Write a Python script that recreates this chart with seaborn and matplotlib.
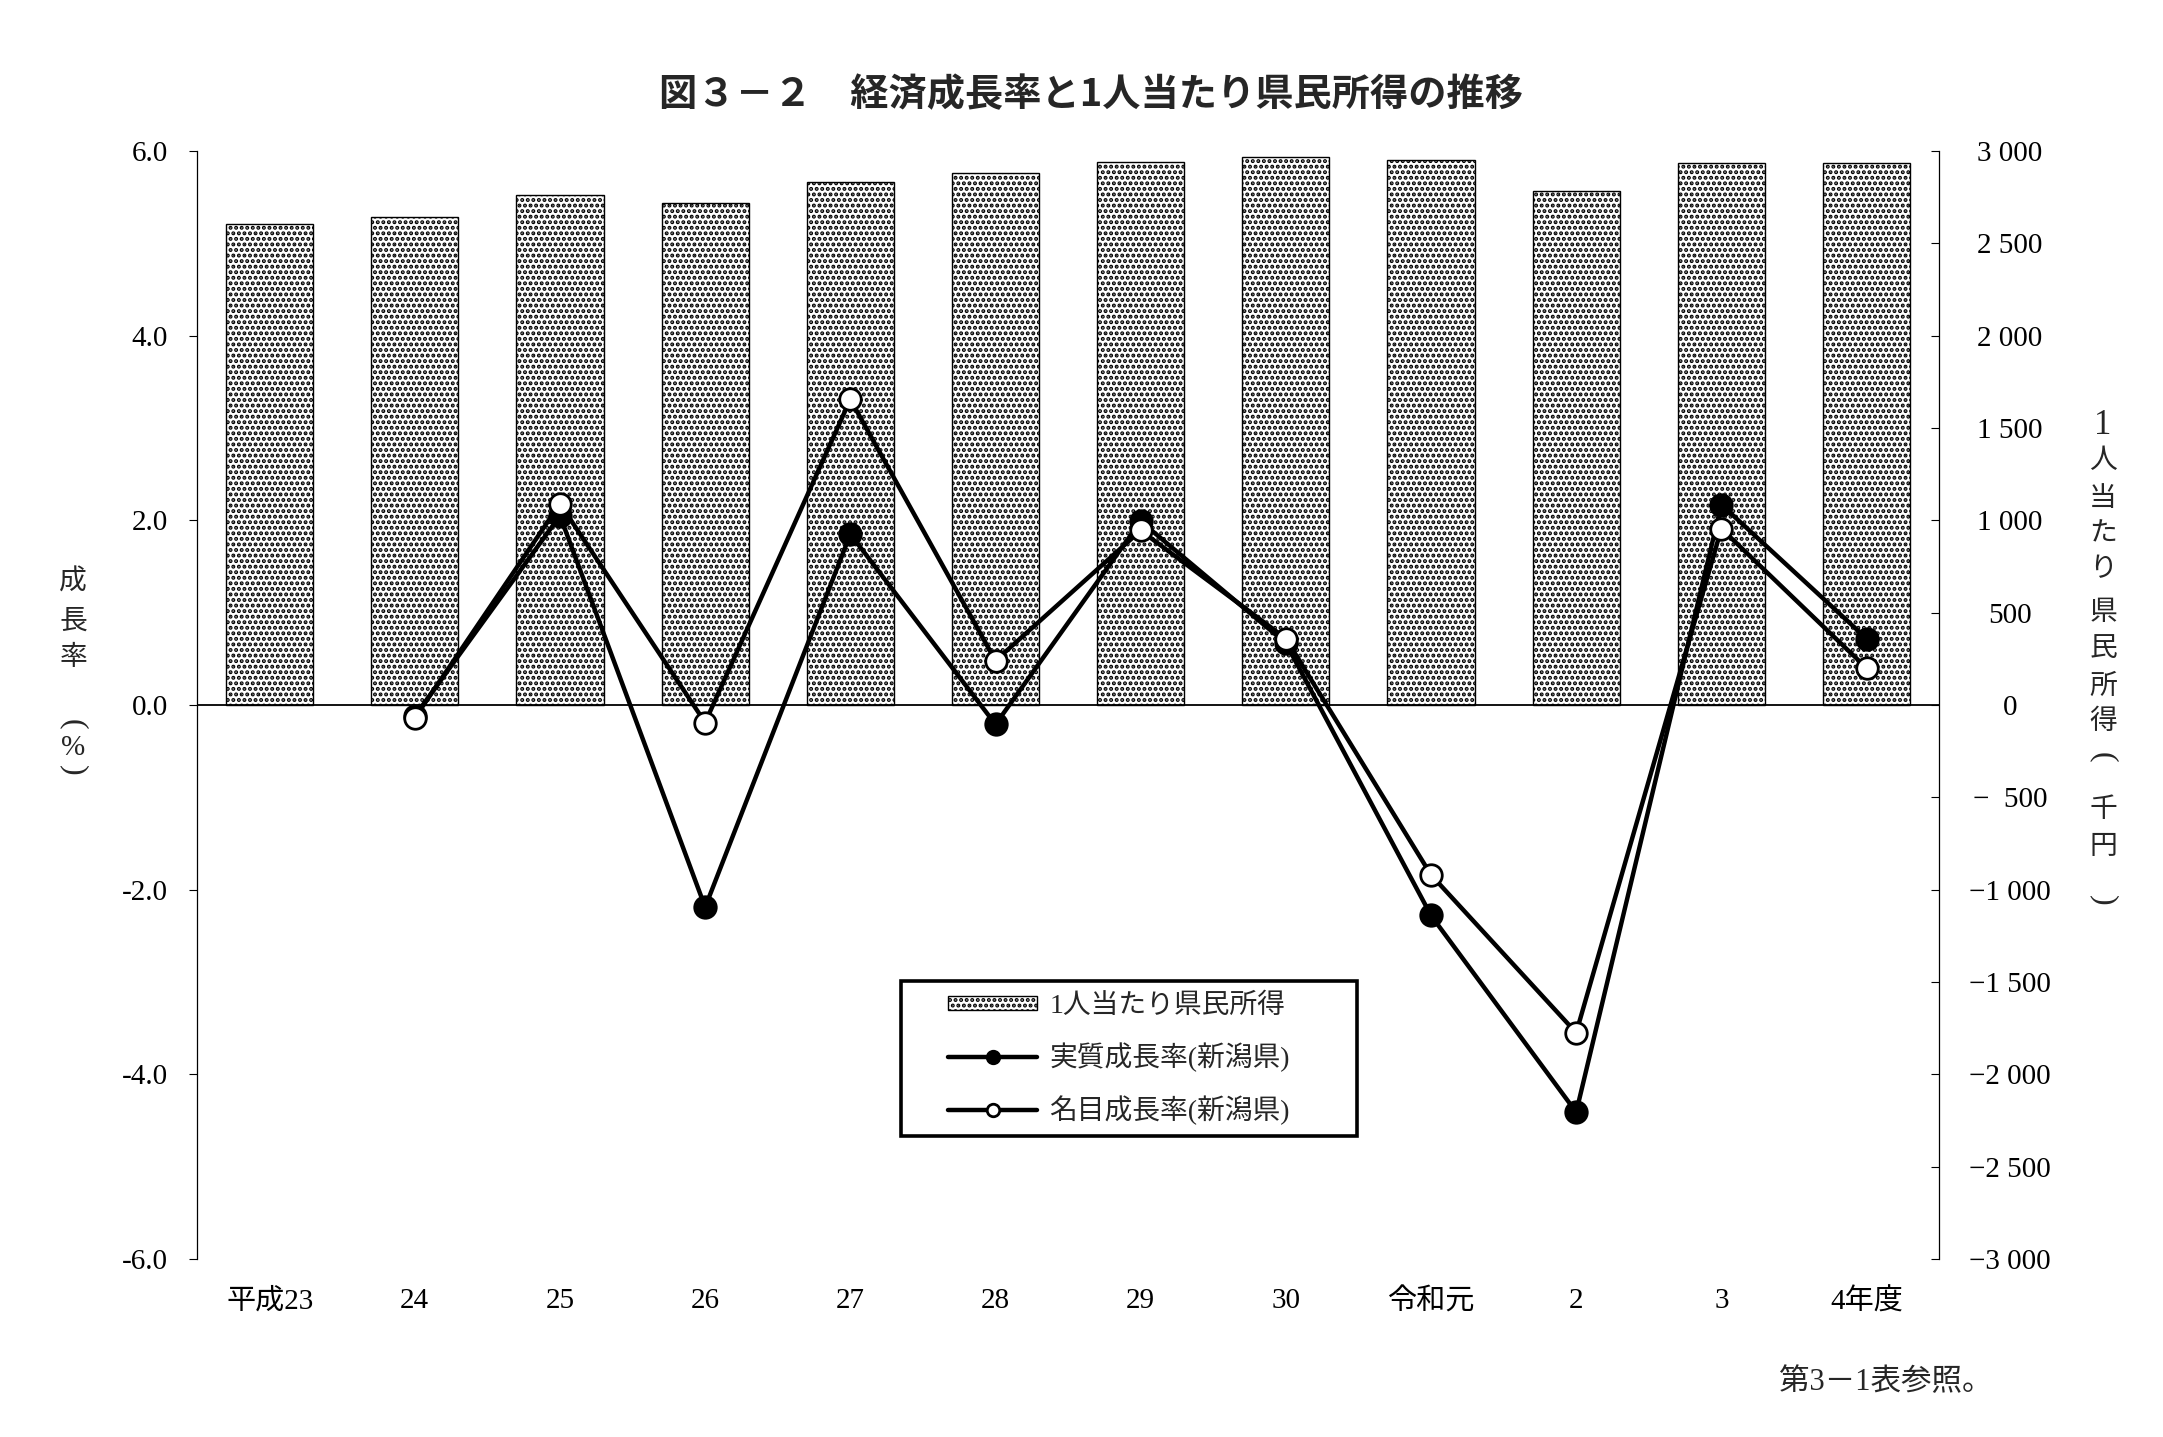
import numpy as np
import pandas as pd
import matplotlib
matplotlib.use("Agg")
import matplotlib.pyplot as plt
from matplotlib.patches import Patch, Rectangle
from matplotlib.lines import Line2D
import seaborn as sns

# ---------------- data ----------------
categories = ["平成23", "24", "25", "26", "27", "28", "29", "30", "令和元", "2", "3", "4年度"]
income = [2604, 2644, 2763, 2721, 2833, 2880, 2940, 2970, 2950, 2784, 2933, 2933]
real_growth = [np.nan, -0.12, 2.05, -2.19, 1.85, -0.21, 1.99, 0.67, -2.28, -4.41, 2.17, 0.72]
nominal_growth = [np.nan, -0.14, 2.18, -0.19, 3.31, 0.48, 1.89, 0.72, -1.84, -3.55, 1.91, 0.40]
left_ticks = [-6, -4, -2, 0, 2, 4, 6]
left_tick_labels = ["-6.0", "-4.0", "-2.0", "0.0", "2.0", "4.0", "6.0"]
right_ticks = [-3000, -2500, -2000, -1500, -1000, -500, 0, 500, 1000, 1500, 2000, 2500, 3000]
right_tick_labels = ["−3 000", "−2 500", "−2 000", "−1 500", "−1 000", "−  500", "0",
                     "500", "1 000", "1 500", "2 000", "2 500", "3 000"]
legend_labels = ["1人当たり県民所得", "実質成長率(新潟県)", "名目成長率(新潟県)"]
title = "図３－２　経済成長率と1人当たり県民所得の推移"
left_label_chars = ["成", "長", "率"]
right_label_chars = ["人", "当", "た", "り", "県", "民", "所", "得"]
right_label_chars2 = ["千", "円"]
footnote = "第3－1表参照。"

# ---------------- style ----------------
sns.set_style("white")
plt.rcParams["font.family"] = ["Liberation Serif", "Noto Sans CJK JP"]
plt.rcParams["hatch.linewidth"] = 2.0
plt.rcParams["hatch.color"] = "black"
FAM = ["Liberation Serif", "Noto Sans CJK JP"]

fig = plt.figure(figsize=(21.63, 14.37), dpi=100)
fig.patch.set_facecolor("white")
ax = fig.add_axes([0.0911, 0.1239, 0.8054, 0.7710])
ax2 = ax.twinx()

# bars on the secondary (right) axis, drawn behind
xpos = np.arange(len(categories))
sns.barplot(x=categories, y=income, ax=ax2, color="white", edgecolor="black",
            linewidth=1.0, width=0.6, saturation=1, hatch="...")
ax2.set_ylim(-3000, 3000)
ax2.set_ylabel("")

# lines on primary axis, on top
ax.set_zorder(ax2.get_zorder() + 1)
ax.patch.set_visible(False)
ax2.patch.set_visible(True)
ax2.patch.set_facecolor("white")

ax.axhline(0, color="black", lw=1.3, zorder=2)
sns.lineplot(x=xpos, y=real_growth, ax=ax, color="black", linewidth=3.2,
             marker="o", markersize=15.5, markerfacecolor="black",
             markeredgecolor="black", markeredgewidth=2, estimator=None,
             errorbar=None, zorder=3)
sns.lineplot(x=xpos, y=nominal_growth, ax=ax, color="black", linewidth=3.2,
             marker="o", markersize=15.5, markerfacecolor="white",
             markeredgecolor="black", markeredgewidth=2, estimator=None,
             errorbar=None, zorder=4)

ax.set_ylim(-6, 6)
ax.set_xlim(-0.5, len(categories) - 0.5)
ax.set_xlabel("")
ax.set_ylabel("")

ax.set_yticks(left_ticks)
ax.set_yticklabels(left_tick_labels, fontsize=21, family=FAM)
ax.set_xticks(xpos)
ax.set_xticklabels(categories, fontsize=21, family=FAM)
ax2.set_yticks(right_ticks)
ax2.set_yticklabels(right_tick_labels, fontsize=21, family=FAM, ha="center")

ax.tick_params(axis="y", direction="out", length=5.8, width=0.8, pad=15, colors="black")
ax.tick_params(axis="x", length=0, pad=21, colors="black")
ax2.tick_params(axis="y", direction="in", length=5.8, width=0.8, pad=51, colors="black")

for a in (ax, ax2):
    for s in ("top", "bottom"):
        a.spines[s].set_visible(False)
ax.spines["right"].set_visible(False)
ax2.spines["left"].set_visible(False)
ax.spines["left"].set_color("black")
ax.spines["left"].set_linewidth(0.9)
ax2.spines["right"].set_color("black")
ax2.spines["right"].set_linewidth(0.9)

# legend frame and legend
frame = Rectangle((0.4041, 0.1110), 0.2618, 0.1399, transform=ax.transAxes,
                  facecolor="white", edgecolor="black", linewidth=2.6, zorder=10,
                  clip_on=False)
ax.add_patch(frame)
handles = [
    Patch(facecolor="white", edgecolor="black", hatch="...", linewidth=1.0),
    Line2D([], [], color="black", lw=3.2, marker="o", ms=9, mfc="black", mec="black", mew=2),
    Line2D([], [], color="black", lw=3.2, marker="o", ms=9, mfc="white", mec="black", mew=2),
]
leg = ax.legend(handles, legend_labels, loc="upper left", bbox_to_anchor=(0.4311, 0.2400),
                borderaxespad=0, borderpad=0, frameon=False,
                prop={"family": FAM, "size": 20}, handlelength=3.2,
                handletextpad=0.45, handleheight=0.4, labelspacing=0.85)
leg.set_zorder(11)

# title
fig.text(0.5045, 0.9339, title, fontsize=27.5, fontweight="bold",
         family=["Noto Sans CJK JP"], ha="center", va="center")

# left vertical label
for ch, yy in zip(left_label_chars, [583, 622, 658]):
    fig.text(73 / 2163, 1 - yy / 1437, ch, fontsize=20, family=FAM, ha="center", va="center")
fig.text(73 / 2163, 1 - 724 / 1437, "(", fontsize=23, family=FAM, ha="center", va="center", rotation=-90)
fig.text(73 / 2163, 1 - 748 / 1437, "%", fontsize=21, family=FAM, ha="center", va="center")
fig.text(73 / 2163, 1 - 770 / 1437, ")", fontsize=23, family=FAM, ha="center", va="center", rotation=-90)

# right vertical label
rx = 2103 / 2163
fig.text(rx, 1 - 425 / 1437, "1", fontsize=25, family=FAM, ha="center", va="center")
for ch, yy in zip(right_label_chars, [462, 500, 535, 570, 613, 650, 687, 722]):
    fig.text(rx, 1 - yy / 1437, ch, fontsize=20, family=FAM, ha="center", va="center")
fig.text(rx, 1 - 757 / 1437, "(", fontsize=23, family=FAM, ha="center", va="center", rotation=-90)
for ch, yy in zip(right_label_chars2, [810, 848]):
    fig.text(rx, 1 - yy / 1437, ch, fontsize=20, family=FAM, ha="center", va="center")
fig.text(rx, 1 - 900 / 1437, ")", fontsize=23, family=FAM, ha="center", va="center", rotation=-90)

# footnote
fig.text(0.921, 0.0376, footnote, fontsize=22, family=FAM, ha="right", va="center")

fig.savefig("out.png", dpi=100, facecolor="white")
